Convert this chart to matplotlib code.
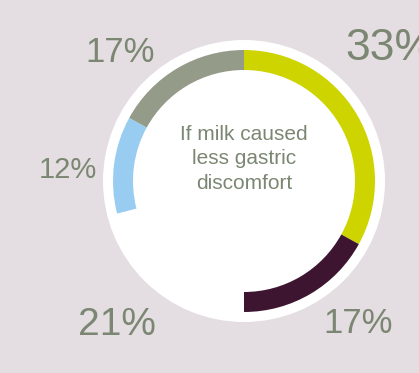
import matplotlib
matplotlib.use("Agg")
import matplotlib.pyplot as plt
from matplotlib.patches import Circle

# data
categories = ["A", "B", "No answer", "C", "D"]
values = [33, 17, 21, 12, 17]
seg_colors = ["#cdd400", "#3d1530", "#ffffff", "#98cdf1", "#959b89"]
labels = ["33%", "17%", "21%", "12%", "17%"]
center_lines = ["If milk caused", "less gastric", "discomfort"]

BG = "#e4dee2"
TXT = "#7b8772"

W, H = 419, 373
fig = plt.figure(figsize=(W / 100, H / 100), dpi=100)
fig.patch.set_facecolor(BG)
ax = fig.add_axes([0, 0, 1, 1])
ax.set_xlim(0, W)
ax.set_ylim(0, H)
ax.set_aspect("equal")
ax.axis("off")

cx, cy = 244, H - 181
ax.add_patch(Circle((cx, cy), 141, facecolor="white", edgecolor="none", zorder=1))

wedges, _ = ax.pie(values, colors=seg_colors, radius=131, center=(cx, cy),
                   startangle=90, counterclock=False,
                   wedgeprops=dict(width=20, edgecolor="none", linewidth=0))
for w in wedges:
    w.set_zorder(2)
ax.set_xlim(0, W)
ax.set_ylim(0, H)
ax.set_aspect("equal")
ax.axis("off")

# label positions (pixel, y-up) and sizes
label_pos = [(345, H - 60, "left", 32),
             (358, H - 333, "center", 25),
             (117, H - 335, "center", 28),
             (68, H - 178, "center", 21),
             (120, H - 62, "center", 25)]
for lab, (x, y, ha, fs) in zip(labels, label_pos):
    ax.text(x, y, lab, ha=ha, va="baseline", fontsize=fs, color=TXT,
            family=["Liberation Sans", "DejaVu Sans"], zorder=3)

for i, line in enumerate(center_lines):
    ax.text(cx, H - (140 + 24.5 * i), line, ha="center", va="baseline",
            fontsize=15, color=TXT,
            family=["Liberation Sans", "DejaVu Sans"], zorder=3)

fig.savefig("out.png", dpi=100, facecolor=BG)
